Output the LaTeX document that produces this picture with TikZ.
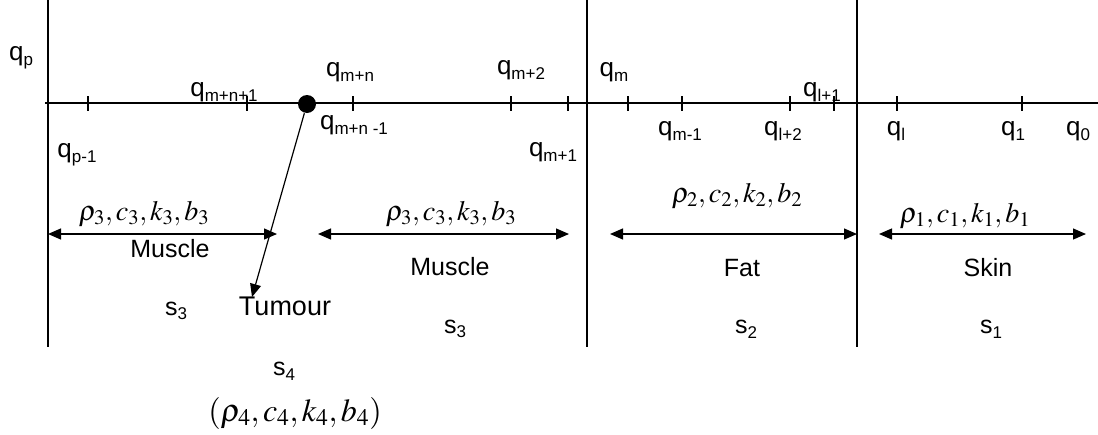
\documentclass[tikz,border=0pt]{standalone}
\usepackage{mathptmx}
\usepackage[no-math]{fontspec}
\setmainfont{Liberation Sans}
\usetikzlibrary{arrows.meta}

\newcommand{\idx}[2]{#1\raisebox{-0.35ex}{\fontsize{17}{17}\selectfont #2}}
\newcommand{\tissue}[1]{$\rho_{#1},c_{#1},k_{#1},b_{#1}$}

\tikzset{
  qlabel/.style={inner sep=0pt, font=\fontsize{26}{30}\selectfont},
  word/.style={inner sep=0pt, font=\fontsize{25}{29}\selectfont},
  props/.style={inner sep=0pt, font=\fontsize{28}{32}\selectfont},
  layer/.style={{Triangle[length=13pt,width=11pt]}-{Triangle[length=13pt,width=11pt]}},
}

\begin{document}
\begin{tikzpicture}[x=1pt, y=-1pt, line width=1.2pt]
  \useasboundingbox (0,0) rectangle (1098,434);

  % layer boundaries and the axis
  \draw (48,0) -- (48,347);
  \draw (587,0) -- (587,347);
  \draw (857,0) -- (857,347);
  \draw (45,103) -- (1098,103);
  \foreach \x in {88,247,353,511,568,628,682,790,834,897,1022}
    \draw (\x,96) -- (\x,111);

  % nodes on the axis
  \node[qlabel] (qp) at (21,58) {\idx{q}{p}};
  \node[qlabel] (qp1) at (77,155) {\idx{q}{p-1}};
  \node[qlabel] (qmn1) at (224,92) {\idx{q}{m+n+1}};
  \node[qlabel] (qmn) at (350,72) {\idx{q}{m+n}};
  \node[qlabel] (qmnm) at (354,125) {\idx{q}{m+n -1}};
  \node[qlabel] (qm2) at (521,70) {\idx{q}{m+2}};
  \node[qlabel] (qm1) at (553,152) {\idx{q}{m+1}};
  \node[qlabel] (qm) at (614,72) {\idx{q}{m}};
  \node[qlabel] (qmm) at (680,131) {\idx{q}{m-1}};
  \node[qlabel] (ql2) at (783,131) {\idx{q}{l+2}};
  \node[qlabel] (ql1) at (822,92) {\idx{q}{l+1}};
  \node[qlabel] (ql) at (896,131) {\idx{q}{l}};
  \node[qlabel] (qone) at (1013,131) {\idx{q}{1}};
  \node[qlabel] (qzero) at (1078,131) {\idx{q}{0}};

  % layer extents
  \coordinate (mus1L) at (48,234);
  \coordinate (mus1R) at (277,234);
  \coordinate (mus2L) at (318,234);
  \coordinate (mus2R) at (569,234);
  \coordinate (fatL) at (610,234);
  \coordinate (fatR) at (857,234);
  \coordinate (skinL) at (879,234);
  \coordinate (skinR) at (1086,234);
  \draw[layer] (mus1L) -- (mus1R);
  \draw[layer] (mus2L) -- (mus2R);
  \draw[layer] (fatL) -- (fatR);
  \draw[layer] (skinL) -- (skinR);

  \node[props] (prop3a) at (144,214) {\tissue{3}};
  \node[props] (prop3b) at (451,214) {\tissue{3}};
  \node[props] (prop2) at (737,196) {\tissue{2}};
  \node[props] (prop1) at (965,216) {\tissue{1}};

  \node[word] (muscleA) at (170,249) {Muscle};
  \node[word] (muscleB) at (450,267) {Muscle};
  \node[word] (fat) at (742,268) {Fat};
  \node[word] (skin) at (988,268) {Skin};

  \node[word] (s3a) at (176,311) {\idx{s}{3}};
  \node[word] (s3b) at (455,329) {\idx{s}{3}};
  \node[word] (s2) at (746,329) {\idx{s}{2}};
  \node[word] (s1) at (991,329) {\idx{s}{1}};

  % tumour
  \node[circle, fill, inner sep=0pt, minimum size=18pt] (tum) at (307,104) {};
  \node[word, font=\fontsize{27}{31}\selectfont] (tumour) at (285,306) {Tumour};
  \coordinate (tumtip) at (252,297);
  \draw[-{Triangle[length=13pt,width=11pt]}] (tum) -- (tumtip);
  \node[word] (s4) at (284,371) {\idx{s}{4}};
  \node[props, font=\fontsize{32}{36}\selectfont] (prop4) at (295,413) {$(\rho_4,c_4,k_4,b_4)$};
\end{tikzpicture}
\end{document}
